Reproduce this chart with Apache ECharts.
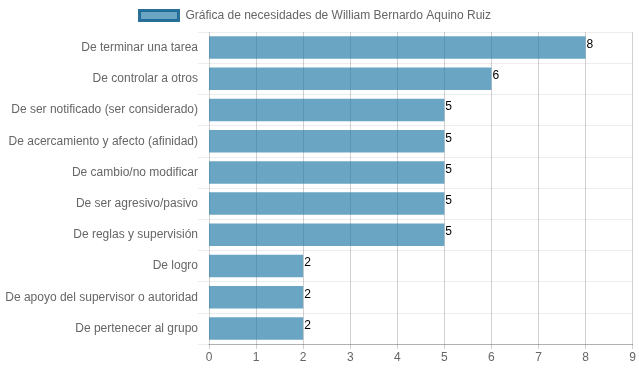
<!DOCTYPE html>
<html>
<head>
<meta charset="utf-8">
<script src="https://cdn.jsdelivr.net/npm/echarts@6/dist/echarts.min.js"></script>
<style>html,body{margin:0;padding:0;background:#fff}#c{width:639px;height:372px}</style>
</head>
<body>
<div id="c"></div>
<script>
const categories = [
  "De terminar una tarea",
  "De controlar a otros",
  "De ser notificado (ser considerado)",
  "De acercamiento y afecto (afinidad)",
  "De cambio/no modificar",
  "De ser agresivo/pasivo",
  "De reglas y supervisión",
  "De logro",
  "De apoyo del supervisor o autoridad",
  "De pertenecer al grupo"
];
const values = [8, 6, 5, 5, 5, 5, 5, 2, 2, 2];
const seriesName = "Gráfica de necesidades de William Bernardo Aquino Ruiz";
const xTicks = [0, 1, 2, 3, 4, 5, 6, 7, 8, 9];

const font = "'Liberation Sans', Arial, sans-serif";
const chart = echarts.init(document.getElementById('c'), null, {renderer: 'canvas'});
chart.setOption({
  animation: false,
  textStyle: {fontFamily: font},
  legend: {
    top: 4, left: 133,
    itemWidth: 39, itemHeight: 10,
    itemGap: 10,
    textStyle: {color: '#666', fontSize: 12, fontFamily: font, padding: [0, 0, 0, 2]},
    data: [{name: seriesName, icon: 'rect', itemStyle: {color: 'rgba(26,117,164,0.65)', borderColor: 'rgba(30,105,150,0.95)', borderWidth: 3}}]
  },
  grid: {left: 209, right: 6, top: 32, bottom: 28, containLabel: false},
  xAxis: {
    type: 'value', min: xTicks[0], max: xTicks[xTicks.length - 1], interval: 1,
    axisLine: {show: true, lineStyle: {color: 'rgba(0,0,0,0.25)', width: 1}},
    axisTick: {show: true, length: 5, lineStyle: {color: 'rgba(0,0,0,0.18)'}},
    axisLabel: {color: '#666', fontSize: 12, fontFamily: font, margin: 8},
    splitLine: {show: true, lineStyle: {color: 'rgba(0,0,0,0.18)', width: 1}}
  },
  yAxis: {
    type: 'category', data: categories, inverse: true,
    axisLine: {show: false},
    axisTick: {show: true, length: 11, lineStyle: {color: 'rgba(0,0,0,0.07)'}},
    axisLabel: {color: '#666', fontSize: 12, fontFamily: font, margin: 11},
    splitLine: {show: true, lineStyle: {color: 'rgba(0,0,0,0.07)', width: 1}}
  },
  series: [{
    name: seriesName, type: 'bar', data: values,
    barCategoryGap: '28%',
    itemStyle: {color: 'rgba(26,117,164,0.65)'},
    label: {show: true, position: 'right', distance: 1, color: '#000', fontSize: 12, fontFamily: font, offset: [0, -3]}
  }]
});
</script>
</body>
</html>
